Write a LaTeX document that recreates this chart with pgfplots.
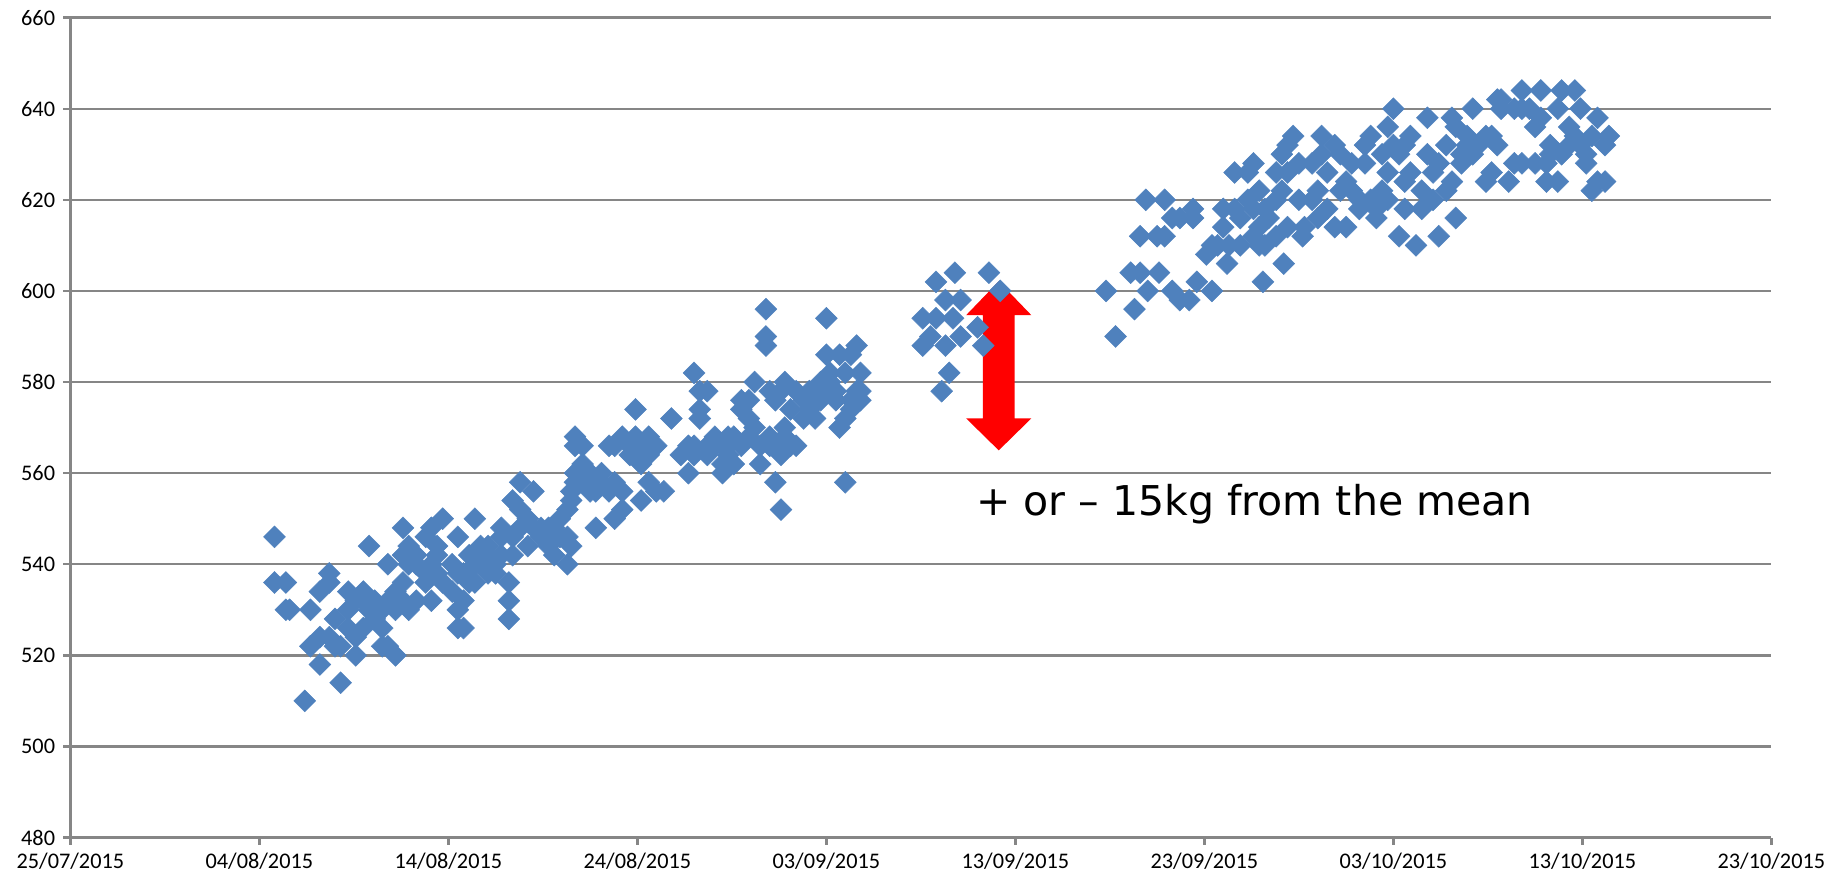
\documentclass[border=0pt]{standalone}
\usepackage{pgfplots}
\pgfplotsset{compat=1.18}
\usepackage{fontspec}
\setmainfont{Carlito}
\newfontfamily\annotfont{DejaVu Sans}
\definecolor{excelblue}{HTML}{4F81BD}
\definecolor{gridgray}{HTML}{868686}

% weight (kg) against day, day 0 = 25/07/2015
\pgfplotstableread{
d w
10.8 546
10.8 536
11.4 536
11.4 530
11.6 530
12.4 510
12.7 522
12.7 530
13.2 518
13.2 524
13.2 534
13.7 536
13.7 538
13.7 524
14.0 528
14.0 522
14.3 514
14.3 522
14.7 534
14.7 526
14.7 530
15.1 520
15.1 524
15.1 532
15.5 526
15.5 532
15.5 534
15.8 544
15.8 530
16.1 528
16.1 532
16.5 526
16.5 522
16.5 530
16.8 540
16.8 532
16.8 522
17.2 530
17.2 534
17.2 520
17.6 536
17.6 542
17.6 532
17.6 548
17.9 530
17.9 540
17.9 544
18.3 532
18.3 540
18.3 542
18.8 536
18.8 538
18.8 546
19.1 532
19.1 540
19.1 548
19.4 542
19.4 538
19.4 544
19.7 550
19.7 536
20.2 540
20.2 534
20.5 546
20.5 526
20.5 538
20.5 530
20.8 532
20.8 526
20.8 538
21.1 536
21.1 542
21.4 550
21.4 540
21.4 536
21.7 544
21.7 540
21.7 542
22.1 538
22.1 542
22.1 544
22.5 540
22.5 538
22.8 548
22.8 542
22.8 546
23.2 536
23.2 528
23.2 532
23.4 546
23.4 554
23.4 542
23.8 558
23.8 548
23.8 552
24.2 544
24.2 550
24.5 556
24.5 548
24.9 548
24.9 546
25.3 544
25.3 548
25.6 542
25.6 548
25.9 550
25.9 546
26.3 552
26.3 540
26.3 546
26.5 544
26.5 554
26.5 556
26.7 568
26.7 566
26.7 558
26.7 560
27.1 566
27.1 562
27.1 558
27.5 556
27.5 558
27.5 560
27.8 548
27.8 556
28.1 558
28.1 560
28.5 556
28.5 566
28.8 558
28.8 566
28.8 550
29.2 568
29.2 552
29.2 556
29.6 564
29.6 566
29.9 574
29.9 564
29.9 568
30.2 566
30.2 554
30.2 562
30.6 568
30.6 558
30.6 564
31.0 566
31.0 556
31.4 556
31.8 572
32.3 564
32.7 560
32.7 566
33.0 582
33.0 566
33.0 564
33.3 578
33.3 572
33.3 574
33.7 566
33.7 564
33.7 578
34.1 566
34.1 568
34.5 560
34.5 566
34.5 562
34.8 568
34.8 564
34.8 566
35.1 568
35.1 562
35.5 566
35.5 576
35.5 574
35.9 572
35.9 576
35.9 568
36.2 580
36.2 570
36.5 566
36.5 562
36.8 596
36.8 590
36.8 588
37.0 578
37.0 568
37.0 566
37.3 558
37.3 566
37.3 576
37.6 552
37.6 564
37.6 578
37.8 580
37.8 568
37.8 570
38.1 574
38.1 566
38.4 578
38.4 566
38.8 572
38.8 576
39.1 574
39.1 578
39.4 572
39.4 578
39.7 580
39.7 576
40.0 594
40.0 586
40.0 578
40.2 582
40.2 580
40.5 576
40.5 578
40.7 570
40.7 586
41.0 558
41.0 572
41.0 582
41.3 586
41.3 574
41.3 576
41.6 588
41.6 578
41.8 582
41.8 576
41.8 578
45.1 594
45.1 588
45.5 590
45.8 602
45.8 594
46.1 578
46.3 598
46.3 588
46.5 582
46.7 594
46.8 604
47.1 598
47.1 590
48.0 592
48.3 588
48.6 604
49.2 600
54.8 600
55.3 590
56.1 604
56.3 596
56.6 604
56.6 612
56.9 620
57.0 600
57.5 612
57.6 604
57.9 620
57.9 612
58.3 600
58.3 616
58.7 598
58.7 616
59.2 598
59.4 618
59.4 616
59.6 602
60.1 608
60.4 600
60.4 610
60.7 610
61.0 618
61.0 614
61.2 606
61.3 610
61.6 626
61.6 618
61.9 610
61.9 616
62.3 626
62.3 620
62.6 628
62.6 618
62.6 612
62.9 622
62.9 614
62.9 610
63.1 602
63.2 610
63.2 618
63.4 616
63.8 626
63.8 620
63.8 612
64.1 630
64.1 622
64.2 606
64.4 632
64.4 626
64.4 614
64.7 634
65.0 620
65.0 628
65.2 612
65.3 614
65.7 628
65.7 620
66.0 622
66.0 616
66.2 634
66.2 630
66.5 626
66.5 618
66.9 614
66.9 632
67.2 630
67.2 622
67.5 614
67.5 624
67.8 622
67.8 628
68.2 620
68.2 618
68.5 632
68.5 628
68.8 634
68.8 620
69.1 616
69.1 618
69.4 622
69.4 630
69.7 636
69.7 626
69.7 620
70.0 640
70.0 632
70.3 612
70.3 630
70.6 624
70.6 632
70.6 618
70.9 634
70.9 626
71.2 610
71.5 622
71.5 618
71.8 638
71.8 630
72.1 626
72.1 620
72.4 612
72.4 628
72.8 622
72.8 632
73.1 638
73.1 624
73.3 616
73.3 636
73.6 630
73.6 628
73.9 634
73.9 632
74.2 640
74.2 630
74.5 632
74.9 634
74.9 624
75.2 634
75.2 626
75.5 632
75.5 642
75.7 640
75.7 642
76.1 624
76.4 640
76.4 628
76.8 644
76.8 628
76.8 640
77.2 640
77.5 628
77.5 636
77.8 644
77.8 638
78.1 624
78.1 628
78.3 630
78.3 632
78.7 624
78.7 640
78.9 644
78.9 630
79.3 636
79.3 632
79.6 634
79.6 644
79.9 640
79.9 632
80.2 630
80.2 628
80.5 622
80.5 634
80.8 638
80.8 624
81.2 632
81.2 624
81.4 634
}\weights

\begin{document}
\begin{tikzpicture}
\begin{axis}[
   width=725pt, height=349.5pt, scale only axis,
   xmin=0, xmax=90, ymin=480, ymax=660,
   xtick={0,10,...,90},
   xticklabels={25/07/2015,04/08/2015,14/08/2015,24/08/2015,03/09/2015,
                13/09/2015,23/09/2015,03/10/2015,13/10/2015,23/10/2015},
   ytick={480,500,...,660},
   ymajorgrids,
   major grid style={draw=gridgray, line width=1pt},
   axis x line*=bottom, axis y line*=left,
   axis line style={draw=gridgray, line width=1.3pt, -},
   tick align=outside, major tick length=3pt,
   tick style={draw=gridgray, line width=1pt},
   tick label style={font=\fontsize{9.5}{11}\selectfont},
   /pgf/number format/assume math mode=true,
   /pgf/number format/1000 sep={},
]
\addplot[only marks, mark=square*, mark size=3.3pt,
   mark options={rotate=45, fill=excelblue, draw=excelblue, line width=0.2pt}]
   table[x=d, y=w] {\weights};
\fill[red] (axis cs:49.12,602.1) -- (axis cs:50.84,594.7) -- (axis cs:49.955,594.7)
   -- (axis cs:49.955,572.0) -- (axis cs:50.84,572.0) -- (axis cs:49.12,565.0)
   -- (axis cs:47.4,572.0) -- (axis cs:48.285,572.0) -- (axis cs:48.285,594.7)
   -- (axis cs:47.4,594.7) -- cycle;
\node[anchor=base west, inner sep=0pt, font=\annotfont\fontsize{17.5}{20}\selectfont]
   at (axis cs:47.9,550.6) {+ or – 15kg from the mean};
\coordinate (bl) at (rel axis cs:0,0);
\coordinate (tr) at (rel axis cs:1,1);
\end{axis}
\pgfresetboundingbox
\path ([shift={(-30pt,-17.2pt)}]bl) rectangle ([shift={(25pt,7.5pt)}]tr);
\end{tikzpicture}
\end{document}
